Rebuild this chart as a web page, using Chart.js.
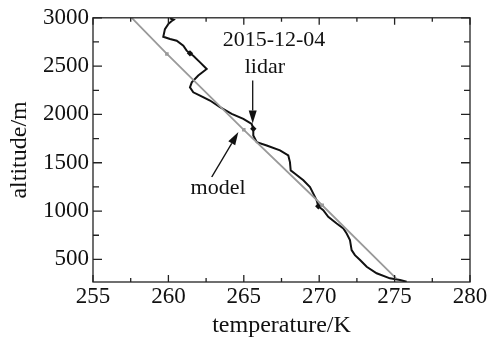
<!DOCTYPE html>
<html><head><meta charset="utf-8">
<script src="https://cdn.jsdelivr.net/npm/chart.js@4/dist/chart.umd.min.js"></script>
<style>html,body{margin:0;padding:0;background:#fff}#wrap{width:493px;height:338px}</style>
</head><body><div id="wrap"><canvas id="c" width="493" height="338"></canvas></div>
<script>
const lidarTemp = [260.1,260.35,260.2,259.99,259.77,259.66,260.11,260.55,260.99,261.21,261.43,261.65,262.10,262.54,261.98,261.55,261.43,261.65,262.10,262.76,263.42,264.20,264.97,265.52,265.63,265.63,265.86,266.52,267.40,267.95,268.06,268.11,268.40,268.95,269.39,269.61,269.83,269.94,270.27,270.60,271.16,271.60,271.82,272.04,272.15,272.37,272.71,273.15,273.81,274.69,275.36,275.80];
const lidarAlt  = [2995,2980,2965,2935,2883,2804,2780,2763,2711,2660,2632,2608,2539,2471,2402,2332,2281,2229,2195,2144,2075,2006,1955,1903,1852,1783,1713,1679,1628,1576,1507,1421,1387,1318,1249,1181,1112,1050,1009,940,871,820,768,699,596,544,493,424,356,304,286,269];
const lidarMarkAlt = [2632,1852,1050];
const modelTemp = [257.57,259.9,265.0,270.2,275.1];
const modelAlt  = [3000,2626,1841,1060,304];
const xTicks = [255,260,265,270,275,280];
const yTicks = [500,1000,1500,2000,2500,3000];
const xLabel = 'temperature/K';
const yLabel = 'altitude/m';
const notes = [
  {text:'2015-12-04', t:267.0, a:2763},
  {text:'lidar', t:266.4, a:2484},
  {text:'model', t:263.29, a:1236}
];
const arrows = [
  {t0:265.59,a0:2350,t1:265.59,a1:1906},
  {t0:262.87,a0:1352,t1:264.64,a1:1817}
];

const FONT = 'Liberation Serif';
const lidarPts = lidarTemp.map((t,i)=>({x:t,y:lidarAlt[i]}));
const modelPts = modelTemp.map((t,i)=>({x:t,y:modelAlt[i]}));

const framePlugin = {
  id:'frame',
  afterDatasetsDraw(chart){
    const {ctx, chartArea:ca, scales:{x,y}} = chart;
    ctx.save();
    ctx.strokeStyle='#222'; ctx.lineWidth=1.3;
    ctx.strokeRect(ca.left, ca.top, ca.right-ca.left, ca.bottom-ca.top);
    ctx.beginPath();
    for(let v=255; v<=280; v+=2.5){
      const px=x.getPixelForValue(v); const L=(Math.abs(v%5)<1e-6)?7:4;
      ctx.moveTo(px,ca.bottom); ctx.lineTo(px,ca.bottom-L);
      ctx.moveTo(px,ca.top); ctx.lineTo(px,ca.top+L);
    }
    for(let v=500; v<=3000; v+=250){
      const py=y.getPixelForValue(v); const L=(v%500===0)?9:6;
      ctx.moveTo(ca.left,py); ctx.lineTo(ca.left+L,py);
      ctx.moveTo(ca.right,py); ctx.lineTo(ca.right-L,py);
    }
    ctx.stroke();
    ctx.fillStyle='#111'; ctx.strokeStyle='#111'; ctx.lineWidth=1.3;
    arrows.forEach(ar=>{
      const x0=x.getPixelForValue(ar.t0), y0=y.getPixelForValue(ar.a0);
      const x1=x.getPixelForValue(ar.t1), y1=y.getPixelForValue(ar.a1);
      const ang=Math.atan2(y1-y0,x1-x0), hl=13, hw=4;
      const bx=x1-hl*Math.cos(ang), by=y1-hl*Math.sin(ang);
      ctx.beginPath(); ctx.moveTo(x0,y0); ctx.lineTo(bx,by); ctx.stroke();
      ctx.beginPath(); ctx.moveTo(x1,y1);
      ctx.lineTo(bx+hw*Math.sin(ang), by-hw*Math.cos(ang));
      ctx.lineTo(bx-hw*Math.sin(ang), by+hw*Math.cos(ang));
      ctx.closePath(); ctx.fill();
    });
    ctx.font='22px "'+FONT+'"'; ctx.textAlign='center'; ctx.textBaseline='middle';
    notes.forEach(n=>{
      ctx.fillStyle='#fff';
      const w=ctx.measureText(n.text).width;
      const px=x.getPixelForValue(n.t), py=y.getPixelForValue(n.a);
      ctx.fillRect(px-w/2-1, py-11, w+2, 22);
      ctx.fillStyle='#111'; ctx.fillText(n.text, px, py);
    });
    ctx.restore();
  }
};

new Chart(document.getElementById('c'), {
  type:'line',
  data:{datasets:[
    {label:'model', data:modelPts, borderColor:'#9a9a9a', borderWidth:1.8, backgroundColor:'#9a9a9a',
     pointStyle:'rect', pointRadius:modelPts.map((p,i)=>(i>0&&i<modelPts.length-1)?2.5:0), pointBorderWidth:0, tension:0},
    {label:'lidar', data:lidarPts, borderColor:'#111', borderWidth:2, backgroundColor:'#111',
     pointStyle:'rectRot', pointRadius:lidarPts.map(p=>lidarMarkAlt.includes(p.y)?3.2:0), pointBorderWidth:0, tension:0}
  ]},
  options:{
    responsive:false, animation:false, devicePixelRatio:1,
    layout:{padding:{left:0,right:23,top:17,bottom:0}},
    plugins:{legend:{display:false}, tooltip:{enabled:false}},
    scales:{
      x:{type:'linear', min:255, max:280,
        afterBuildTicks(s){ s.ticks = xTicks.map(v=>({value:v})); },
        afterFit(s){ s.height = 56; },
        grid:{display:false, drawTicks:false}, border:{display:false},
        ticks:{color:'#111', padding:1, font:{family:FONT, size:23}, maxRotation:0, autoSkip:false,
          callback:(v)=>String(v)},
        title:{display:true, text:xLabel, color:'#111', font:{family:FONT, size:24}, padding:{top:0,bottom:-2}}
      },
      y:{type:'linear', min:266, max:3000,
        afterBuildTicks(s){ s.ticks = yTicks.map(v=>({value:v})); },
        afterFit(s){ s.width = 93; },
        grid:{display:false, drawTicks:false}, border:{display:false},
        ticks:{color:'#111', padding:4, font:{family:FONT, size:23}, autoSkip:false,
          callback:(v)=>String(v)},
        title:{display:true, text:yLabel, color:'#111', font:{family:FONT, size:24}, padding:{top:5,bottom:0}}
      }
    }
  },
  plugins:[framePlugin]
});
</script></body></html>
